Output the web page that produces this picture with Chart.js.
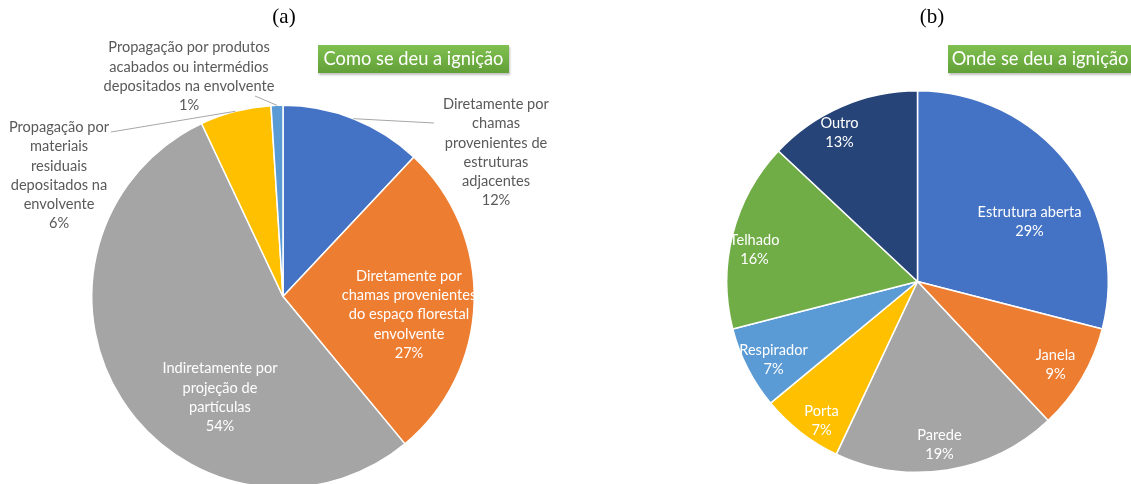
<!DOCTYPE html>
<html>
<head>
<meta charset="utf-8">
<script src="https://cdn.jsdelivr.net/npm/chart.js@4"></script>
<style>
  html, body { margin: 0; padding: 0; background: #fff; overflow: hidden; }
  body { width: 1131px; height: 484px; position: relative; }
  .box { position: absolute; top: 0; height: 500px; }
  #boxA { left: 0; width: 566px; }
  #boxB { left: 565px; width: 566px; }
  .panel-tag {
    position: absolute; top: 4px; font-family: 'Liberation Serif', 'DejaVu Serif', serif;
    font-size: 21px; color: #000; transform: translateX(-50%);
  }
  .badge {
    position: absolute; top: 45px; height: 28px; line-height: 27px;
    background: linear-gradient(#80c050, #62a038);
    color: #fff; font-family: Lato, 'Open Sans', sans-serif; font-size: 18.3px;
    text-align: center; box-shadow: 1px 2px 2px rgba(0,0,0,.25);
    white-space: nowrap;
  }
</style>
</head>
<body>
<div class="box" id="boxA"><canvas id="chartA"></canvas></div>
<div class="box" id="boxB"><canvas id="chartB"></canvas></div>
<div class="panel-tag" style="left:284px">(a)</div>
<div class="panel-tag" style="left:932px">(b)</div>
<div class="badge" style="left:318px; width:191px">Como se deu a ignição</div>
<div class="badge" style="left:948px; width:184px">Onde se deu a ignição</div>

<script>
'use strict';

/* ── Data ───────────────────────────────────────────────────────── */
const catsA = [
  ['Diretamente por', 'chamas', 'provenientes de', 'estruturas', 'adjacentes'],
  ['Diretamente por', 'chamas provenientes', 'do espaço florestal', 'envolvente'],
  ['Indiretamente por', 'projeção de', 'partículas'],
  ['Propagação por', 'materiais', 'residuais', 'depositados na', 'envolvente'],
  ['Propagação por produtos', 'acabados ou intermédios', 'depositados na envolvente'],
];
const valuesA = [12, 27, 54, 6, 1];

const catsB = [
  ['Estrutura aberta'], ['Janela'], ['Parede'], ['Porta'],
  ['Respirador'], ['Telhado'], ['Outro'],
];
const valuesB = [29, 9, 19, 7, 7, 16, 13];

const colorsA = ['#4472C4', '#ED7D31', '#A5A5A5', '#FFC000', '#5B9BD5'];
const colorsB = ['#4472C4', '#ED7D31', '#A5A5A5', '#FFC000', '#5B9BD5', '#70AD47', '#264478'];

/* ── Label placement (offsets from pie centre, px) ──────────────── */
const placeA = [
  { dx: 213, dy: -144, out: true, lead: [434, 123] },
  { dx: 126, dy: 18 },
  { dx: -63, dy: 101 },
  { dx: -224, dy: -121, out: true, lead: [111, 132] },
  { dx: -94, dy: -220, out: true, lead: [255, 96] },
];
const placeB = [
  { dx: 112, dy: -60 },
  { dx: 138, dy: 83 },
  { dx: 22, dy: 163 },
  { dx: -96, dy: 139 },
  { dx: -144, dy: 78 },
  { dx: -163, dy: -32 },
  { dx: -78, dy: -149 },
];

/* ── Slice label plugin ─────────────────────────────────────────── */
const sliceLabels = {
  id: 'sliceLabels',
  afterDatasetsDraw(chart, args, opts) {
    const { ctx } = chart;
    const arcs = chart.getDatasetMeta(0).data;
    const data = chart.data.datasets[0].data;
    const total = data.reduce((a, b) => a + b, 0);
    const lh = 19.3;
    ctx.save();
    ctx.font = '14.6px Lato, "Open Sans", sans-serif';
    ctx.textAlign = 'center';
    ctx.textBaseline = 'middle';
    arcs.forEach((arc, i) => {
      const p = opts.place[i];
      const lines = [...chart.data.labels[i], Math.round(data[i] / total * 100) + '%'];
      const cx = arc.x + p.dx;
      const cy = arc.y + p.dy;
      if (p.lead) {
        const mid = (arc.startAngle + arc.endAngle) / 2;
        const r = arc.outerRadius;
        const ox = chart.canvas.parentNode.offsetLeft;
        ctx.strokeStyle = '#A6A6A6';
        ctx.lineWidth = 1;
        ctx.beginPath();
        ctx.moveTo(arc.x + Math.cos(mid) * r, arc.y + Math.sin(mid) * r);
        ctx.lineTo(p.lead[0] - ox, p.lead[1]);
        ctx.stroke();
      }
      ctx.fillStyle = p.out ? '#595959' : '#ffffff';
      lines.forEach((t, k) => {
        ctx.fillText(t, cx, cy + (k - (lines.length - 1) / 2) * lh);
      });
    });
    ctx.restore();
  },
};

function makePie(id, cats, values, colors, place, padding) {
  return new Chart(document.getElementById(id), {
    type: 'pie',
    data: {
      labels: cats,
      datasets: [{
        data: values,
        backgroundColor: colors,
        borderColor: '#ffffff',
        borderWidth: 1.5,
      }],
    },
    options: {
      responsive: true,
      maintainAspectRatio: false,
      animation: false,
      layout: { padding },
      plugins: {
        legend: { display: false },
        tooltip: { enabled: false },
        sliceLabels: { place },
      },
    },
    plugins: [sliceLabels],
  });
}

makePie('chartA', catsA, valuesA, colorsA, placeA, { left: 91, right: 91, top: 104, bottom: 11 });
makePie('chartB', catsB, valuesB, colorsB, placeB, { left: 161, right: 22, top: 90, bottom: 27 });
</script>
</body>
</html>
